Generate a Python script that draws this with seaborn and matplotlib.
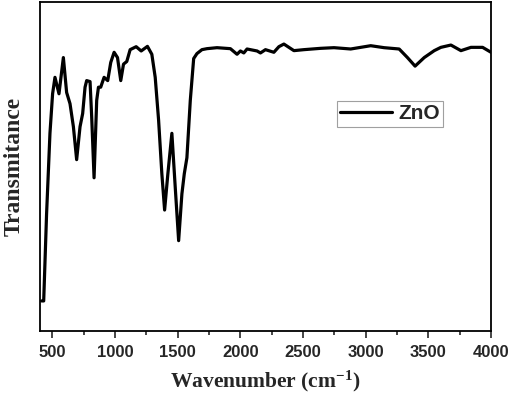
import pandas as pd
import matplotlib
matplotlib.use("Agg")
import matplotlib.pyplot as plt
import seaborn as sns
from matplotlib.ticker import MultipleLocator

# FTIR spectrum of ZnO
wavenumber = [413, 430, 453, 480, 501, 520, 552, 587, 613, 640, 667, 693, 720, 741,
              760, 773, 800, 813, 832, 853, 867, 885, 912, 941, 965, 992, 1019, 1045,
              1067, 1093, 1120, 1168, 1208, 1258, 1293, 1320, 1347, 1373, 1395, 1421,
              1453, 1480, 1507, 1533, 1552, 1573, 1600, 1627, 1653, 1693, 1733, 1813,
              1920, 1973, 2000, 2027, 2053, 2133, 2160, 2200, 2267, 2307, 2347, 2387,
              2427, 2507, 2640, 2747, 2880, 3040, 3147, 3267, 3333, 3394, 3467, 3547,
              3600, 3680, 3760, 3840, 3933, 4000]
transmittance = [9.1, 9.1, 35.5, 60, 72, 77, 72, 83, 72.4, 69, 62, 52, 62, 66,
                 74, 76, 75.7, 65, 46.5, 70, 74, 74, 77, 76, 81.5, 84.6, 83, 76,
                 81, 81.8, 85.4, 86.3, 85, 86.4, 84, 77, 64, 47.7, 36.7, 47.7,
                 60, 43.5, 27.4, 41.6, 47.7, 52.6, 70, 82.7, 84.2, 85.4, 85.7, 86,
                 85.7, 84, 85, 84.4, 85.6, 85, 84.4, 85.4, 84.6, 86.3, 87.1, 86.1,
                 85.1, 85.4, 85.8, 86, 85.6, 86.6, 86, 85.6, 83, 80.4, 83, 85.1,
                 86.1, 86.8, 85.1, 86.1, 86.1, 84.6]

df = pd.DataFrame({"Wavenumber": wavenumber, "Transmittance": transmittance, "sample": "ZnO"})

sns.set_style("white")
plt.rcParams["mathtext.fontset"] = "custom"
plt.rcParams["mathtext.rm"] = "Liberation Serif:bold"
plt.rcParams["mathtext.bf"] = "Liberation Serif:bold"
plt.rcParams["mathtext.it"] = "Liberation Serif:bold"

fig = plt.figure(figsize=(5.12, 3.93), dpi=100)
ax = fig.add_axes([0.078, 0.158, 0.881, 0.838])

sns.lineplot(data=df, x="Wavenumber", y="Transmittance", hue="sample",
             palette=["black"], linewidth=2.3, sort=False, ax=ax,
             solid_joinstyle="round")

ax.set_xlim(400, 4000)
ax.set_ylim(0, 100)
ax.xaxis.set_major_locator(MultipleLocator(500))
ax.xaxis.set_minor_locator(MultipleLocator(250))
ax.tick_params(axis="x", which="major", direction="out", length=5, width=1.2,
               bottom=True, pad=5.5)
ax.tick_params(axis="x", which="minor", direction="out", length=3, width=1.2, bottom=True)
ax.set_yticks([])
for lab in ax.get_xticklabels():
    lab.set_fontfamily("Liberation Sans")
    lab.set_fontweight("bold")
    lab.set_fontsize(12)

for sp in ax.spines.values():
    sp.set_color("black")
    sp.set_linewidth(1.3)

ax.set_xlabel("Wavenumber (cm$^{\\mathrm{-1}}$)", fontfamily="Liberation Serif",
              fontweight="bold", fontsize=15.5, labelpad=6)
ax.set_ylabel("Transmitance", fontfamily="Liberation Serif", fontweight="bold",
              fontsize=17, labelpad=11)

leg = ax.legend(loc="upper left", bbox_to_anchor=(0.658, 0.697), frameon=True,
                fancybox=False, handlelength=2.5, handletextpad=0.3,
                borderpad=0.15, borderaxespad=0,
                prop={"family": "Liberation Sans", "weight": "bold", "size": 15})
leg.get_frame().set_edgecolor("#888888")
leg.get_frame().set_linewidth(0.8)

plt.savefig("out.png", dpi=100)
